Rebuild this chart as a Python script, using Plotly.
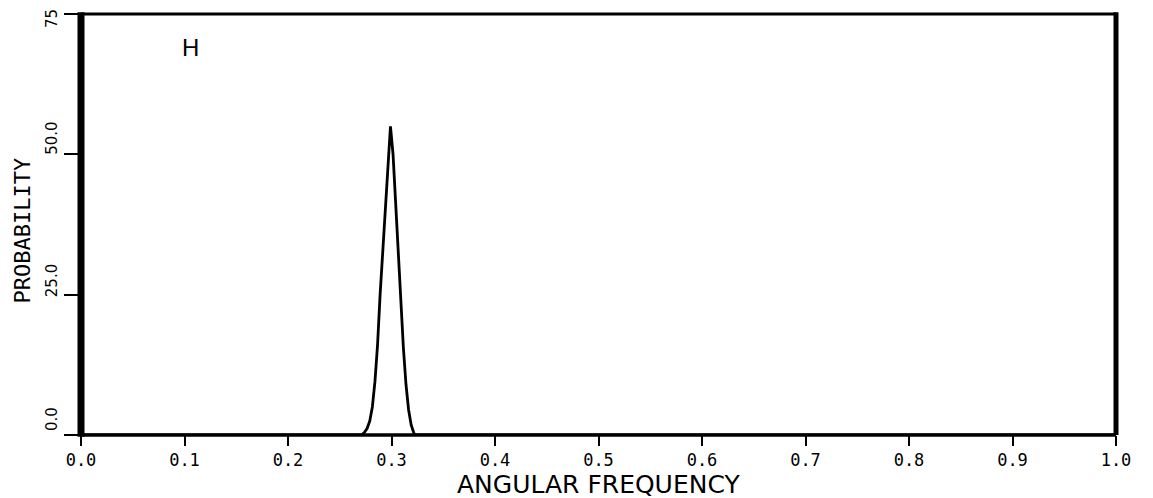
import plotly.graph_objects as go

# Probability density of the angular frequency (panel H)
freq = [0.0, 0.271, 0.274, 0.2765, 0.279, 0.2815, 0.284, 0.2865, 0.289, 0.2915,
        0.294, 0.2965, 0.299, 0.3015, 0.304, 0.3065, 0.309, 0.3115, 0.314,
        0.3165, 0.319, 0.3215, 0.323, 1.0]
prob = [0.0, 0.0, 0.5, 1.2, 2.5, 5.0, 9.5, 16.0, 25.0, 32.5,
        41.0, 49.5, 55.0, 50.0, 41.5, 32.0, 24.0, 15.5, 9.0,
        4.5, 1.8, 0.4, 0.0, 0.0]

x_ticks = [0.0, 0.1, 0.2, 0.3, 0.4, 0.5, 0.6, 0.7, 0.8, 0.9, 1.0]
x_tick_text = ["0.0", "0.1", "0.2", "0.3", "0.4", "0.5", "0.6", "0.7", "0.8", "0.9", "1.0"]
y_ticks = [0.0, 25.0, 50.0, 75.0]
y_tick_text = ["0.0", "25.0", "50.0", "75"]

fig = go.Figure()
fig.add_trace(go.Scatter(x=freq, y=prob, mode="lines",
                         line=dict(color="black", width=2.8),
                         showlegend=False, hoverinfo="skip"))

fig.update_layout(
    width=1153, height=498,
    margin=dict(l=81, r=37, t=14, b=63),
    paper_bgcolor="white", plot_bgcolor="white",
    font=dict(family="DejaVu Sans Mono", color="black"),
)
fig.update_xaxes(range=[0, 1], showgrid=False, zeroline=False, showline=False,
                 tickmode="array", tickvals=x_ticks, ticktext=x_tick_text,
                 ticks="outside", ticklen=10, tickwidth=2, tickcolor="black",
                 tickfont=dict(family="DejaVu Sans Mono", size=17))
fig.update_yaxes(range=[0, 75], showgrid=False, zeroline=False, showline=False,
                 tickmode="array", tickvals=y_ticks, showticklabels=False,
                 ticks="outside", ticklen=16, tickwidth=1.5, tickcolor="black")

# frame: heavy left edge, lighter top/bottom/right
frame = [
    dict(x0=0, x1=0, y0=-0.004, y1=1.004, w=7),
    dict(x0=0, x1=1, y0=0, y1=0, w=3.5),
    dict(x0=0, x1=1, y0=1, y1=1, w=3),
    dict(x0=1, x1=1, y0=0, y1=1.004, w=5),
]
for f in frame:
    fig.add_shape(type="line", xref="paper", yref="paper",
                  x0=f["x0"], x1=f["x1"], y0=f["y0"], y1=f["y1"],
                  line=dict(color="black", width=f["w"]))

# rotated y tick labels
label_shift = {0.0: 2, 25.0: -5, 50.0: -3, 75.0: -5}
for v, t in zip(y_ticks, y_tick_text):
    fig.add_annotation(x=0, xref="paper", y=v, yref="y", text=t,
                       textangle=-90, showarrow=False,
                       xanchor="center", yanchor="bottom" if v < 75 else "middle",
                       xshift=-29, yshift=label_shift[v],
                       font=dict(family="DejaVu Sans", size=15, color="black"))

# axis titles
fig.add_annotation(x=0.5, xref="paper", y=0, yref="paper", text="ANGULAR FREQUENCY",
                   showarrow=False, xanchor="center", yanchor="middle", yshift=-49,
                   font=dict(family="DejaVu Sans", size=25, color="black"))
fig.add_annotation(x=0, xref="paper", y=0.5, yref="paper", text="PROBABILITY",
                   textangle=-90, showarrow=False, xanchor="center", yanchor="middle",
                   xshift=-59, yshift=-6,
                   font=dict(family="DejaVu Sans Mono", size=22, color="black"))

# panel letter
fig.add_annotation(x=0.106, y=69, text="H", showarrow=False,
                   xanchor="center", yanchor="middle",
                   font=dict(family="Liberation Sans", size=24, color="black"))

fig.write_html("out.html")
